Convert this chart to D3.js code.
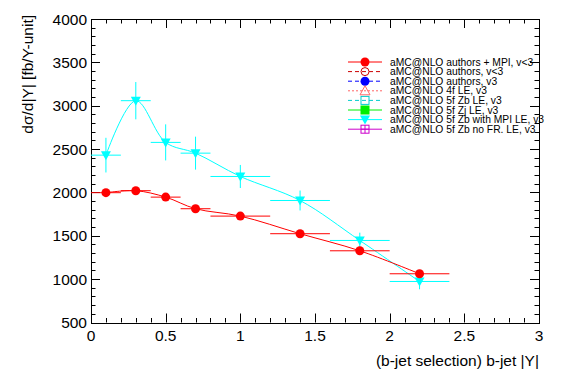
<!DOCTYPE html>
<html>
<head>
    <meta charset="UTF-8" />
    <title>Chart</title>
    <style>
        body { margin: 0; background-color: #fff; }
        svg { display: block; background-color: #fff; font-family: "Liberation Sans", Arial, sans-serif; }
        .frame { fill: none; stroke: #000; stroke-width: 1; }
        .tick-line { stroke: #000; stroke-width: 1; }
    </style>
    <script src="https://cdn.jsdelivr.net/npm/d3@7"></script>
</head>
<body>
<div id="graph-container"></div>
<script>
    // bins in |Y|
    let binLo = [0, 0.2, 0.4, 0.6, 0.8, 1.2, 1.6, 2.0];
    let binHi = [0.2, 0.4, 0.6, 0.8, 1.2, 1.6, 2.0, 2.4];
    let binMid = [0.1, 0.3, 0.5, 0.7, 1.0, 1.4, 1.8, 2.2];

    // aMC@NLO authors + MPI, v<3
    let redVals = [1997, 2020, 1946, 1812, 1727, 1524, 1327, 1062];
    let redErr = [15, 15, 15, 15, 14, 12, 12, 12];
    // aMC@NLO 5f Zb with MPI LE, v3
    let cyanVals = [2430, 3058, 2577, 2453, 2184, 1907, 1446, 973];
    let cyanErr = [200, 215, 208, 190, 133, 115, 90, 90];

    let xTicks = [0, 0.5, 1, 1.5, 2, 2.5, 3];
    let yTicks = [500, 1000, 1500, 2000, 2500, 3000, 3500, 4000];

    let legendLabels = [
        "aMC@NLO authors + MPI, v<3",
        "aMC@NLO authors, v<3",
        "aMC@NLO authors, v3",
        "aMC@NLO 4f LE, v3",
        "aMC@NLO 5f Zb LE, v3",
        "aMC@NLO 5f Zj LE, v3",
        "aMC@NLO 5f Zb with MPI LE, v3",
        "aMC@NLO 5f Zb no FR. LE, v3"
    ];
    let legendColors = ["#ff0000", "#cc0000", "#0000ff", "#ff6666", "#00cccc", "#00ee00", "#00ffff", "#cc00cc"];
    let legendDash = [null, "4,3", "4,3", "2,2", "4,3", null, null, null];
    let legendMarker = ["circle", "ocircle", "circle", "otriangle", "osquare", "square", "itriangle", "osqplus"];

    let W = 567, H = 384;
    let margin = { top: 19, right: 28, bottom: 62, left: 91 };

    let svg = d3.select("#graph-container").append("svg")
        .attr("width", W).attr("height", H);

    let x = d3.scaleLinear().domain([0, 3]).range([margin.left, W - margin.right]);
    let y = d3.scaleLinear().domain([500, 4000]).range([H - margin.bottom + 0.5, margin.top]);

    let x0 = x(0), x1 = x(3), y0 = y(500), y1 = y(4000);

    // ticks (ROOT style: inside, on all four sides)
    let ticks = svg.append("g");
    d3.range(0, 3.0001, 0.1).forEach(v => {
        let major = Math.abs(v * 2 - Math.round(v * 2)) < 1e-6;
        let len = major ? 9 : 4.5;
        let px = Math.round(x(v)) + 0.5;
        ticks.append("line").attr("class", "tick-line").attr("x1", px).attr("x2", px).attr("y1", y0).attr("y2", y0 - len);
        ticks.append("line").attr("class", "tick-line").attr("x1", px).attr("x2", px).attr("y1", y1).attr("y2", y1 + len);
    });
    d3.range(500, 4000.1, 100).forEach(v => {
        let major = v % 500 === 0;
        let len = major ? 9 : 4.5;
        let py = Math.round(y(v)) + 0.5;
        ticks.append("line").attr("class", "tick-line").attr("x1", x0).attr("x2", x0 + len).attr("y1", py).attr("y2", py);
        ticks.append("line").attr("class", "tick-line").attr("x1", x1).attr("x2", x1 - len).attr("y1", py).attr("y2", py);
    });

    svg.append("rect").attr("class", "frame")
        .attr("x", Math.round(x0) + 0.5).attr("y", Math.round(y1) + 0.5)
        .attr("width", Math.round(x1 - x0)).attr("height", Math.round(y0 - y1));

    // tick labels
    svg.append("g").selectAll("text").data(xTicks).enter().append("text")
        .attr("x", d => x(d)).attr("y", y0 + 18)
        .attr("text-anchor", "middle").attr("font-size", 15.5)
        .text(d => d);
    svg.append("g").selectAll("text").data(yTicks).enter().append("text")
        .attr("x", x0 - 4).attr("y", d => y(d) + 5.5)
        .attr("text-anchor", "end").attr("font-size", 15.5)
        .text(d => d);

    // axis titles
    svg.append("text")
        .attr("x", x1).attr("y", 366)
        .attr("text-anchor", "end").attr("font-size", 15.5)
        .text("(b-jet selection) b-jet |Y|");
    svg.append("text")
        .attr("transform", "translate(33,15) rotate(-90)")
        .attr("text-anchor", "end").attr("font-size", 15.5)
        .text("d\u03c3/d|Y| [fb/Y-unit]");

    // series
    function drawSeries(vals, errs, color, marker) {
        let g = svg.append("g");
        let pts = vals.map((v, i) => [x(binMid[i]), y(v)]);
        g.append("path")
            .attr("d", d3.line().curve(d3.curveCatmullRom.alpha(0.5))(pts))
            .attr("fill", "none").attr("stroke", color).attr("stroke-width", 1);
        vals.forEach((v, i) => {
            g.append("line").attr("x1", x(binLo[i])).attr("x2", x(binHi[i]))
                .attr("y1", y(v)).attr("y2", y(v))
                .attr("stroke", color).attr("stroke-width", 1);
            g.append("line").attr("x1", x(binMid[i])).attr("x2", x(binMid[i]))
                .attr("y1", y(v - errs[i])).attr("y2", y(v + errs[i]))
                .attr("stroke", color).attr("stroke-width", 1);
            drawMarker(g, marker, x(binMid[i]), y(v), color);
        });
    }

    function drawMarker(g, kind, cx, cy, color) {
        if (kind === "circle") {
            g.append("circle").attr("cx", cx).attr("cy", cy).attr("r", 4.5).attr("fill", color);
        } else if (kind === "ocircle") {
            g.append("circle").attr("cx", cx).attr("cy", cy).attr("r", 4).attr("fill", "none").attr("stroke", color);
        } else if (kind === "otriangle") {
            g.append("path").attr("d", `M${cx},${cy - 5}L${cx + 5},${cy + 4}L${cx - 5},${cy + 4}Z`)
                .attr("fill", "none").attr("stroke", color);
        } else if (kind === "itriangle") {
            g.append("path").attr("d", `M${cx - 5},${cy - 4}L${cx + 5},${cy - 4}L${cx},${cy + 5}Z`)
                .attr("fill", color);
        } else if (kind === "square") {
            g.append("rect").attr("x", cx - 4.5).attr("y", cy - 4.5).attr("width", 9).attr("height", 9).attr("fill", color);
        } else if (kind === "osquare") {
            g.append("rect").attr("x", cx - 4).attr("y", cy - 4).attr("width", 8).attr("height", 8)
                .attr("fill", "none").attr("stroke", color);
        } else if (kind === "osqplus") {
            g.append("rect").attr("x", cx - 4).attr("y", cy - 4).attr("width", 8).attr("height", 8)
                .attr("fill", "none").attr("stroke", color);
            g.append("path").attr("d", `M${cx - 4},${cy}H${cx + 4}M${cx},${cy - 4}V${cy + 4}`)
                .attr("stroke", color);
        }
    }

    drawSeries(cyanVals, cyanErr, "#00ffff", "itriangle");
    drawSeries(redVals, redErr, "#ff0000", "circle");

    // legend
    let leg = svg.append("g");
    legendLabels.forEach((lab, i) => {
        let ly = 62 + i * 9.6;
        leg.append("line").attr("x1", 348).attr("x2", 382).attr("y1", ly).attr("y2", ly)
            .attr("stroke", legendColors[i]).attr("stroke-width", 1)
            .attr("stroke-dasharray", legendDash[i]);
        drawMarker(leg, legendMarker[i], 365, ly, legendColors[i]);
        leg.append("text").attr("x", 390).attr("y", ly + 3.5)
            .attr("font-size", 10.3).text(lab);
    });
</script>
</body>
</html>
